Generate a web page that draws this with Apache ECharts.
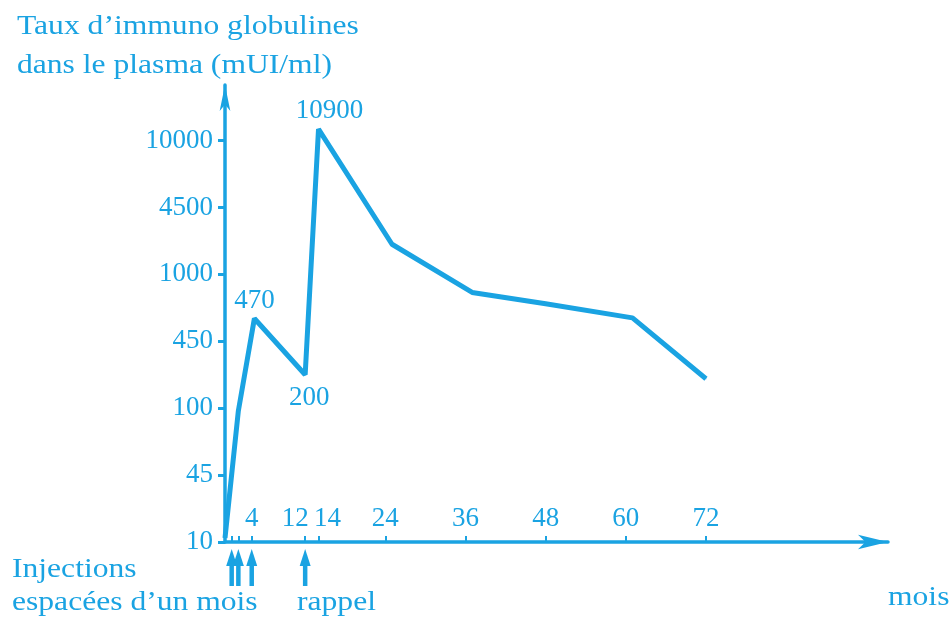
<!DOCTYPE html>
<html>
<head>
<meta charset="utf-8">
<script src="https://cdn.jsdelivr.net/npm/echarts@6/dist/echarts.min.js"></script>
<style>
html,body{margin:0;padding:0;background:#fff;}
#chart{width:952px;height:621px;}
</style>
</head>
<body>
<div id="chart"></div>
<script>
// ---- data ----
// y axis: evenly spaced (schematic) tick labels; levels below are in tick-step units
const yTickLabels = ['10', '45', '100', '450', '1000', '4500', '10000'];
const months = [0, 2, 4.4, 12, 14, 25, 37, 48, 61, 72];
const levels = [0.06, 1.96, 3.34, 2.5, 6.17, 4.45, 3.73, 3.56, 3.35, 2.44];
const pointLabels = ['', '', '470', '200', '10900', '', '', '', '', ''];
const xTickValues = [0, 1, 2, 4, 12, 14, 24, 36, 48, 60, 72];
const xLabelValues = [4, 12, 14, 24, 36, 48, 60, 72];
const injectionMonths = [1, 2, 4, 12];

const C = '#1aa3e2';
const FONT = 'Liberation Serif';
const FS = 27;
const SX = 1.17;

const chart = echarts.init(document.getElementById('chart'));

const labelOffsets = { '470': ['top', [0, 1]], '200': ['bottom', [4, 4]], '10900': ['top', [11, 1]] };
const lineData = months.map((m, i) => {
  const item = { value: [m, levels[i]] };
  const t = pointLabels[i];
  if (t) {
    item.label = { show: true, formatter: t, position: labelOffsets[t][0], offset: labelOffsets[t][1] };
  }
  return item;
});

function txt(text, x, y) {
  return {
    type: 'text', x: x, y: y, scaleX: SX, silent: true,
    style: { text: text, fill: C, font: FS + 'px "' + FONT + '"', align: 'left', verticalAlign: 'top' }
  };
}

const richBase = { color: C, fontFamily: FONT, fontSize: FS };

chart.setOption({
  animation: false,
  grid: { left: 225, right: 64, top: 85, bottom: 79 },
  xAxis: {
    type: 'value', min: 0, max: 99.25,
    splitLine: { show: false },
    axisLine: { lineStyle: { color: C, width: 3.5 }, symbol: ['none', 'arrow'], symbolSize: [11, 30], symbolOffset: [0, 0] },
    axisTick: { inside: true, length: 6, lineStyle: { color: C, width: 2 }, customValues: xTickValues },
    axisLabel: {
      inside: true, margin: 10, color: C, fontFamily: FONT, fontSize: FS, customValues: xLabelValues,
      formatter: v => (v === 12 ? '{l|12}' : v === 14 ? '{r|14}' : '{n|' + v + '}'),
      rich: {
        n: Object.assign({}, richBase),
        l: Object.assign({ padding: [0, 20, 0, 0] }, richBase),
        r: Object.assign({ padding: [0, 0, 0, 18] }, richBase)
      }
    },
  },
  yAxis: {
    type: 'value', min: 0, max: 6.83,
    splitLine: { show: false },
    axisLine: { lineStyle: { color: C, width: 3.5 }, symbol: ['none', 'arrow'], symbolSize: [8, 26], symbolOffset: [0, 0] },
    axisTick: { length: 7, lineStyle: { color: C, width: 3 }, customValues: [0, 1, 2, 3, 4, 5, 6] },
    axisLabel: {
      margin: 12, color: C, fontFamily: FONT, fontSize: FS,
      customValues: [0, 1, 2, 3, 4, 5, 6],
      formatter: v => (Number.isInteger(v) ? yTickLabels[v] : '')
    },
  },
  series: [
    {
      type: 'line', data: lineData, symbol: 'circle', symbolSize: 1, showSymbol: true,
      itemStyle: { color: C },
      lineStyle: { color: C, width: 5 },
      label: { color: C, fontFamily: FONT, fontSize: FS },
      clip: false
    },
    {
      type: 'custom', clip: false, silent: true,
      data: injectionMonths.map(m => [m, 0]),
      renderItem: function (params, api) {
        const p = api.coord([api.value(0), 0]);
        const x = p[0], y = p[1];
        return {
          type: 'group',
          children: [
            { type: 'line', shape: { x1: x, y1: y + 44, x2: x, y2: y + 20 }, style: { stroke: C, lineWidth: 4.5 } },
            { type: 'polygon', shape: { points: [[x, y + 7], [x - 5.5, y + 24], [x + 5.5, y + 24]] }, style: { fill: C } }
          ]
        };
      }
    }
  ],
  graphic: [
    txt('Taux d’immuno globulines', 17, 13),
    txt('dans le plasma (mUI/ml)', 17, 52),
    txt('Injections', 12, 556),
    txt('espacées d’un mois', 12, 589),
    txt('rappel', 297, 589),
    txt('mois', 888, 584)
  ]
});
</script>
</body>
</html>
